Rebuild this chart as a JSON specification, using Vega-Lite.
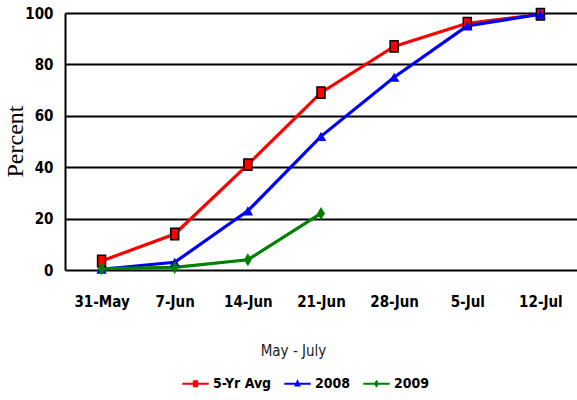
{
  "$schema": "https://vega.github.io/schema/vega-lite/v6.json",
  "width": 512,
  "height": 257,
  "autosize": {"type": "none"},
  "padding": {"left": 65, "top": 13, "right": 0, "bottom": 130},
  "config": {
    "view": {"stroke": null},
    "font": "DejaVu Sans Condensed, Liberation Sans, sans-serif"
  },
  "data": {
    "values": [
      {"week": "31-May", "series": "5-Yr Avg", "pct": 3.5},
      {"week": "7-Jun", "series": "5-Yr Avg", "pct": 14},
      {"week": "14-Jun", "series": "5-Yr Avg", "pct": 41},
      {"week": "21-Jun", "series": "5-Yr Avg", "pct": 69},
      {"week": "28-Jun", "series": "5-Yr Avg", "pct": 87},
      {"week": "5-Jul", "series": "5-Yr Avg", "pct": 96},
      {"week": "12-Jul", "series": "5-Yr Avg", "pct": 99.5},
      {"week": "31-May", "series": "2008", "pct": 0.3},
      {"week": "7-Jun", "series": "2008", "pct": 3},
      {"week": "14-Jun", "series": "2008", "pct": 23},
      {"week": "21-Jun", "series": "2008", "pct": 52},
      {"week": "28-Jun", "series": "2008", "pct": 75},
      {"week": "5-Jul", "series": "2008", "pct": 95},
      {"week": "12-Jul", "series": "2008", "pct": 99.5},
      {"week": "31-May", "series": "2009", "pct": 0.5},
      {"week": "7-Jun", "series": "2009", "pct": 1},
      {"week": "14-Jun", "series": "2009", "pct": 4},
      {"week": "21-Jun", "series": "2009", "pct": 22}
    ]
  },
  "encoding": {
    "x": {
      "field": "week",
      "type": "nominal",
      "scale": {
        "type": "point",
        "padding": 0.5,
        "domain": ["31-May", "7-Jun", "14-Jun", "21-Jun", "28-Jun", "5-Jul", "12-Jul"]
      },
      "axis": {
        "title": "May - July",
        "titleFontSize": 15,
        "titleFontWeight": "normal",
        "titleColor": "#222222",
        "titleX": 228,
        "titleY": 80,
        "titleBaseline": "middle",
        "labelAngle": 0,
        "labelFontSize": 15,
        "labelFontWeight": "bold",
        "labelColor": "#000000",
        "labelPadding": 24,
        "ticks": false,
        "domain": false,
        "grid": false
      }
    },
    "y": {
      "field": "pct",
      "type": "quantitative",
      "scale": {"domain": [0, 100], "nice": false},
      "axis": {
        "title": "Percent",
        "titleFont": "Liberation Serif",
        "titleFontSize": 24,
        "titleFontWeight": "normal",
        "titleColor": "#000000",
        "titleX": -50,
        "titleY": 128,
        "titleAngle": -90,
        "titleAlign": "center",
        "titleBaseline": "middle",
        "values": [0, 20, 40, 60, 80, 100],
        "labelFontSize": 15,
        "labelFontWeight": "bold",
        "labelColor": "#000000",
        "labelPadding": 12,
        "ticks": false,
        "domainColor": "#000000",
        "domainWidth": 2,
        "gridColor": "#000000",
        "gridWidth": 2,
        "gridOpacity": 1
      }
    }
  },
  "layer": [
    {
      "mark": {"type": "line", "strokeWidth": 3.2},
      "encoding": {
        "color": {
          "field": "series",
          "type": "nominal",
          "title": null,
          "scale": {
            "domain": ["5-Yr Avg", "2008", "2009"],
            "range": ["#FF0000", "#0000FF", "#008000"]
          }
        }
      }
    },
    {
      "transform": [{"filter": "datum.series == '5-Yr Avg'"}],
      "mark": {
        "type": "point",
        "shape": "M-0.7,-1H0.7V1H-0.7Z",
        "size": 130,
        "filled": true,
        "fill": "#FF0000",
        "stroke": "#000000",
        "strokeWidth": 1.5,
        "opacity": 1
      }
    },
    {
      "transform": [{"filter": "datum.series == '2008'"}],
      "mark": {
        "type": "point",
        "shape": "triangle-up",
        "size": 110,
        "filled": true,
        "color": "#0000FF",
        "opacity": 1
      }
    },
    {
      "transform": [{"filter": "datum.series == '2009'"}],
      "mark": {
        "type": "point",
        "shape": "M0,-1L0.6,0L0,1L-0.6,0Z",
        "size": 170,
        "filled": true,
        "color": "#008000",
        "opacity": 1
      }
    },
    {
      "mark": {"type": "point", "filled": true, "opacity": 0},
      "encoding": {
        "color": {
          "field": "series",
          "type": "nominal",
          "title": null
        },
        "shape": {
          "field": "series",
          "type": "nominal",
          "title": null,
          "scale": {
            "domain": ["5-Yr Avg", "2008", "2009"],
            "range": [
              "M-1,-0.08H1V0.08H-1Z M-0.2,-0.27H0.2V0.27H-0.2Z",
              "M-1,-0.08H1V0.08H-1Z M0,-0.35L0.25,0.2H-0.25Z",
              "M-1,-0.08H1V0.08H-1Z M0,-0.3L0.2,0L0,0.3L-0.2,0Z"
            ]
          },
          "legend": {
            "orient": "none",
            "legendX": 117,
            "legendY": 357,
            "direction": "horizontal",
            "symbolSize": 700,
            "symbolStrokeWidth": 0,
            "symbolOpacity": 1,
            "labelFontSize": 14,
            "labelFontWeight": "bold",
            "labelColor": "#000000",
            "labelOffset": 4,
            "columnPadding": 12,
            "encode": {"symbols": {"update": {"opacity": {"value": 1}}}}
          }
        }
      }
    }
  ]
}
